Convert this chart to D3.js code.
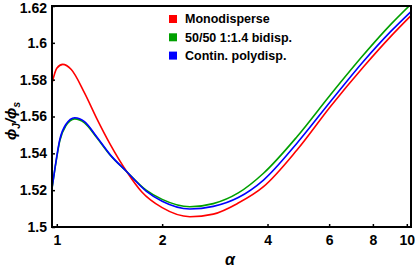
<!DOCTYPE html>
<html>
<head>
<meta charset="utf-8">
<script src="https://cdn.jsdelivr.net/npm/d3@7"></script>
<style>
  body { margin: 0; background: #fff; }
  svg { display: block; font-family: "Liberation Sans", Arial, sans-serif; }
  .tick text { font-weight: bold; font-size: 14px; }
</style>
</head>
<body>
<div id="chart"></div>
<script>
// alpha samples and phi_J/phi_s for each series
var alphaMono = [0.969, 1.0, 1.04, 1.1, 1.2, 1.3, 1.42, 1.585, 1.75, 2.0, 2.4, 2.8, 3.3, 3.896, 4.855, 6.045, 7.524, 9.0, 10.28];
var valMono   = [1.578, 1.5862, 1.5883, 1.5855, 1.5728, 1.5590, 1.5450, 1.5300, 1.5190, 1.5105, 1.5056, 1.5070, 1.5130, 1.5219, 1.5418, 1.5653, 1.5870, 1.6035, 1.6148];

var alphaBi = [0.969, 0.99, 1.02, 1.06, 1.125, 1.2, 1.3, 1.42, 1.585, 1.8, 2.0, 2.4, 2.8, 3.3, 3.896, 4.855, 6.045, 7.524, 9.0, 10.28];
var valBi   = [1.521, 1.5328, 1.5468, 1.5548, 1.5587, 1.5566, 1.5486, 1.5391, 1.5300, 1.5200, 1.5150, 1.5110, 1.5127, 1.5185, 1.5292, 1.5490, 1.5717, 1.5935, 1.6100, 1.6210];

var alphaPoly = [0.969, 0.99, 1.02, 1.06, 1.125, 1.2, 1.3, 1.42, 1.585, 1.8, 2.0, 2.4, 2.8, 3.3, 3.896, 4.855, 6.045, 7.524, 9.0, 10.28];
var valPoly   = [1.521, 1.533, 1.5475, 1.5555, 1.5593, 1.5572, 1.5490, 1.5393, 1.5300, 1.5195, 1.5140, 1.5098, 1.5112, 1.5160, 1.5255, 1.5455, 1.5680, 1.5900, 1.6062, 1.6170];

var seriesNames  = ["Monodisperse", "50/50 1:1.4 bidisp.", "Contin. polydisp."];
var seriesColors = ["#ff0000", "#00a000", "#0000ff"];

var xTicks = [1, 2, 4, 6, 8, 10];
var yTicks = [1.5, 1.52, 1.54, 1.56, 1.58, 1.6, 1.62];

var W = 415, H = 268;
var margin = { top: 6, right: 4, bottom: 41, left: 52 };

var svg = d3.select("#chart").append("svg").attr("width", W).attr("height", H);

var x = d3.scaleLog().domain([0.969, 10.28]).range([margin.left, W - margin.right]);
var y = d3.scaleLinear().domain([1.5, 1.62]).range([H - margin.bottom, margin.top]);

svg.append("clipPath").attr("id", "plotclip").append("rect")
  .attr("x", margin.left).attr("y", margin.top)
  .attr("width", W - margin.left - margin.right).attr("height", H - margin.top - margin.bottom);

var line = d3.line()
  .x(function(d) { return x(d[0]); })
  .y(function(d) { return y(d[1]); })
  .curve(d3.curveMonotoneX);

var series = [
  { name: seriesNames[0], color: seriesColors[0], pts: d3.zip(alphaMono, valMono) },
  { name: seriesNames[1], color: seriesColors[1], pts: d3.zip(alphaBi, valBi) },
  { name: seriesNames[2], color: seriesColors[2], pts: d3.zip(alphaPoly, valPoly) }
];

var g = svg.append("g").attr("clip-path", "url(#plotclip)");
// red, green, then blue on top
series.forEach(function(s) {
  g.append("path").datum(s.pts)
    .attr("fill", "none").attr("stroke", s.color).attr("stroke-width", 1.6)
    .attr("d", line);
});

// axes, short inward ticks
var xAxis = d3.axisBottom(x).tickValues(xTicks).tickFormat(d3.format("d")).tickSize(-3).tickPadding(8);
var yAxis = d3.axisLeft(y).tickValues(yTicks).tickFormat(function(d) { return String(+d.toFixed(2)); }).tickSize(-3).tickPadding(5);

var gx = svg.append("g").attr("transform", "translate(0," + (H - margin.bottom) + ")").call(xAxis);
var gy = svg.append("g").attr("transform", "translate(" + margin.left + ",0)").call(yAxis);
[gx, gy].forEach(function(a) {
  a.select(".domain").remove();
  a.selectAll(".tick line").attr("stroke", "#000").attr("stroke-width", 1.5);
  a.selectAll(".tick text").attr("fill", "#000");
});
gy.selectAll(".tick text").filter(function(d) { return d === 1.62; }).attr("dy", "0.45em");

// frame
svg.append("rect")
  .attr("x", margin.left).attr("y", margin.top)
  .attr("width", W - margin.left - margin.right).attr("height", H - margin.top - margin.bottom)
  .attr("fill", "none").attr("stroke", "#000").attr("stroke-width", 2);

// axis labels
svg.append("text")
  .attr("x", 230).attr("y", 265)
  .attr("text-anchor", "middle").attr("font-style", "italic").attr("font-weight", "bold")
  .attr("font-size", 16).text("α");

var yl = svg.append("text")
  .attr("transform", "translate(16,121) rotate(-90)")
  .attr("text-anchor", "middle").attr("font-style", "italic").attr("font-weight", "bold")
  .attr("font-size", 15);
yl.append("tspan").text("ϕ");
yl.append("tspan").attr("font-size", 10).attr("dy", 4).text("J");
yl.append("tspan").attr("dy", -4).text("/ϕ");
yl.append("tspan").attr("font-size", 10).attr("dy", 4).text("s");

// legend
var leg = svg.append("g").selectAll("g").data(series).enter().append("g")
  .attr("transform", function(d, i) { return "translate(169," + (15 + i * 18.3) + ")"; });
leg.append("rect").attr("width", 8).attr("height", 8).attr("fill", function(d) { return d.color; });
leg.append("text").attr("x", 16).attr("y", 8.3)
  .attr("font-size", 12.5).attr("font-weight", "bold").text(function(d) { return d.name; });
</script>
</body>
</html>
